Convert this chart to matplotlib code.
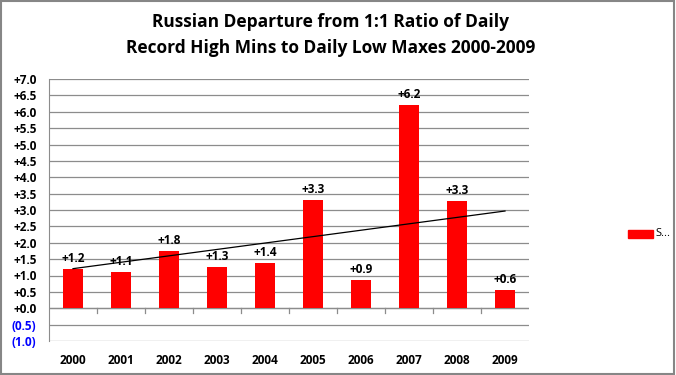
import matplotlib.pyplot as plt
import numpy as np

# data
years = ["2000", "2001", "2002", "2003", "2004", "2005", "2006", "2007", "2008", "2009"]
departure = [1.2, 1.1, 1.76, 1.27, 1.37, 3.3, 0.87, 6.2, 3.27, 0.55]
y_ticks = [-1.0, -0.5, 0.0, 0.5, 1.0, 1.5, 2.0, 2.5, 3.0, 3.5, 4.0, 4.5, 5.0, 5.5, 6.0, 6.5, 7.0]

plt.rcParams["font.family"] = ["Open Sans", "DejaVu Sans"]

fig = plt.figure(figsize=(6.76, 3.75), dpi=100)
ax = fig.add_axes([49 / 676, 1 - 341 / 375, 480 / 676, 262 / 375])

x = np.arange(len(years))
ax.bar(x, departure, width=0.4, color="#ff0000", zorder=3, label="Series1")

# linear trendline through the bars
slope, intercept = np.polyfit(x, departure, 1)
ax.plot([x[0], x[-1]], [intercept, intercept + slope * x[-1]], color="black", lw=0.9, zorder=4)

for xi, v in zip(x, departure):
    ax.text(xi, v + 0.12, f"{v:+.1f}", ha="center", va="bottom", fontsize=8.5, fontweight="bold")

ax.set_xlim(-0.5, len(years) - 0.5)
ax.set_ylim(-1.0, 7.0)
ax.set_yticks(y_ticks)
ax.set_yticklabels([f"{t:+.1f}" if t >= 0 else f"({abs(t):.1f})" for t in y_ticks],
                   fontsize=8.5, fontweight="bold")
for lbl, t in zip(ax.get_yticklabels(), y_ticks):
    if t < 0:
        lbl.set_color("#0000ff")
ax.yaxis.grid(True, color="#8c8c8c", lw=0.9, zorder=0)
ax.tick_params(axis="y", length=0, pad=9)

ax.set_xticks(x)
ax.set_xticklabels(years, fontsize=8.5, fontweight="bold")
ax.tick_params(axis="x", length=0, pad=9)
# category boundary ticks under the zero line
for b in np.arange(0.5, len(years) - 1, 1):
    ax.plot([b, b], [0, -0.15], color="#8c8c8c", lw=0.9, zorder=2, clip_on=False)
ax.axhline(0, color="#8c8c8c", lw=0.9, zorder=2)

for s in ["top", "right", "bottom"]:
    ax.spines[s].set_visible(False)
ax.spines["left"].set_color("#8c8c8c")

fig.text(331 / 676, 1 - 22 / 375, "Russian Departure from 1:1 Ratio of Daily",
         ha="center", va="center", fontsize=12.5, fontweight="bold")
fig.text(331 / 676, 1 - 48 / 375, "Record High Mins to Daily Low Maxes 2000-2009",
         ha="center", va="center", fontsize=12.5, fontweight="bold")

# legend (truncated label like the original)
fig.patches.append(plt.Rectangle((628 / 676, 1 - 238 / 375), 25 / 676, 8 / 375,
                                 transform=fig.transFigure, color="#ff0000"))
fig.text(655 / 676, 1 - 234 / 375, "S...", ha="left", va="center", fontsize=8)

fig.patches.append(plt.Rectangle((0.002, 0.003), 0.995, 0.994, transform=fig.transFigure,
                                 fill=False, edgecolor="#868686", lw=1.5))

fig.savefig("out.png", dpi=100)
